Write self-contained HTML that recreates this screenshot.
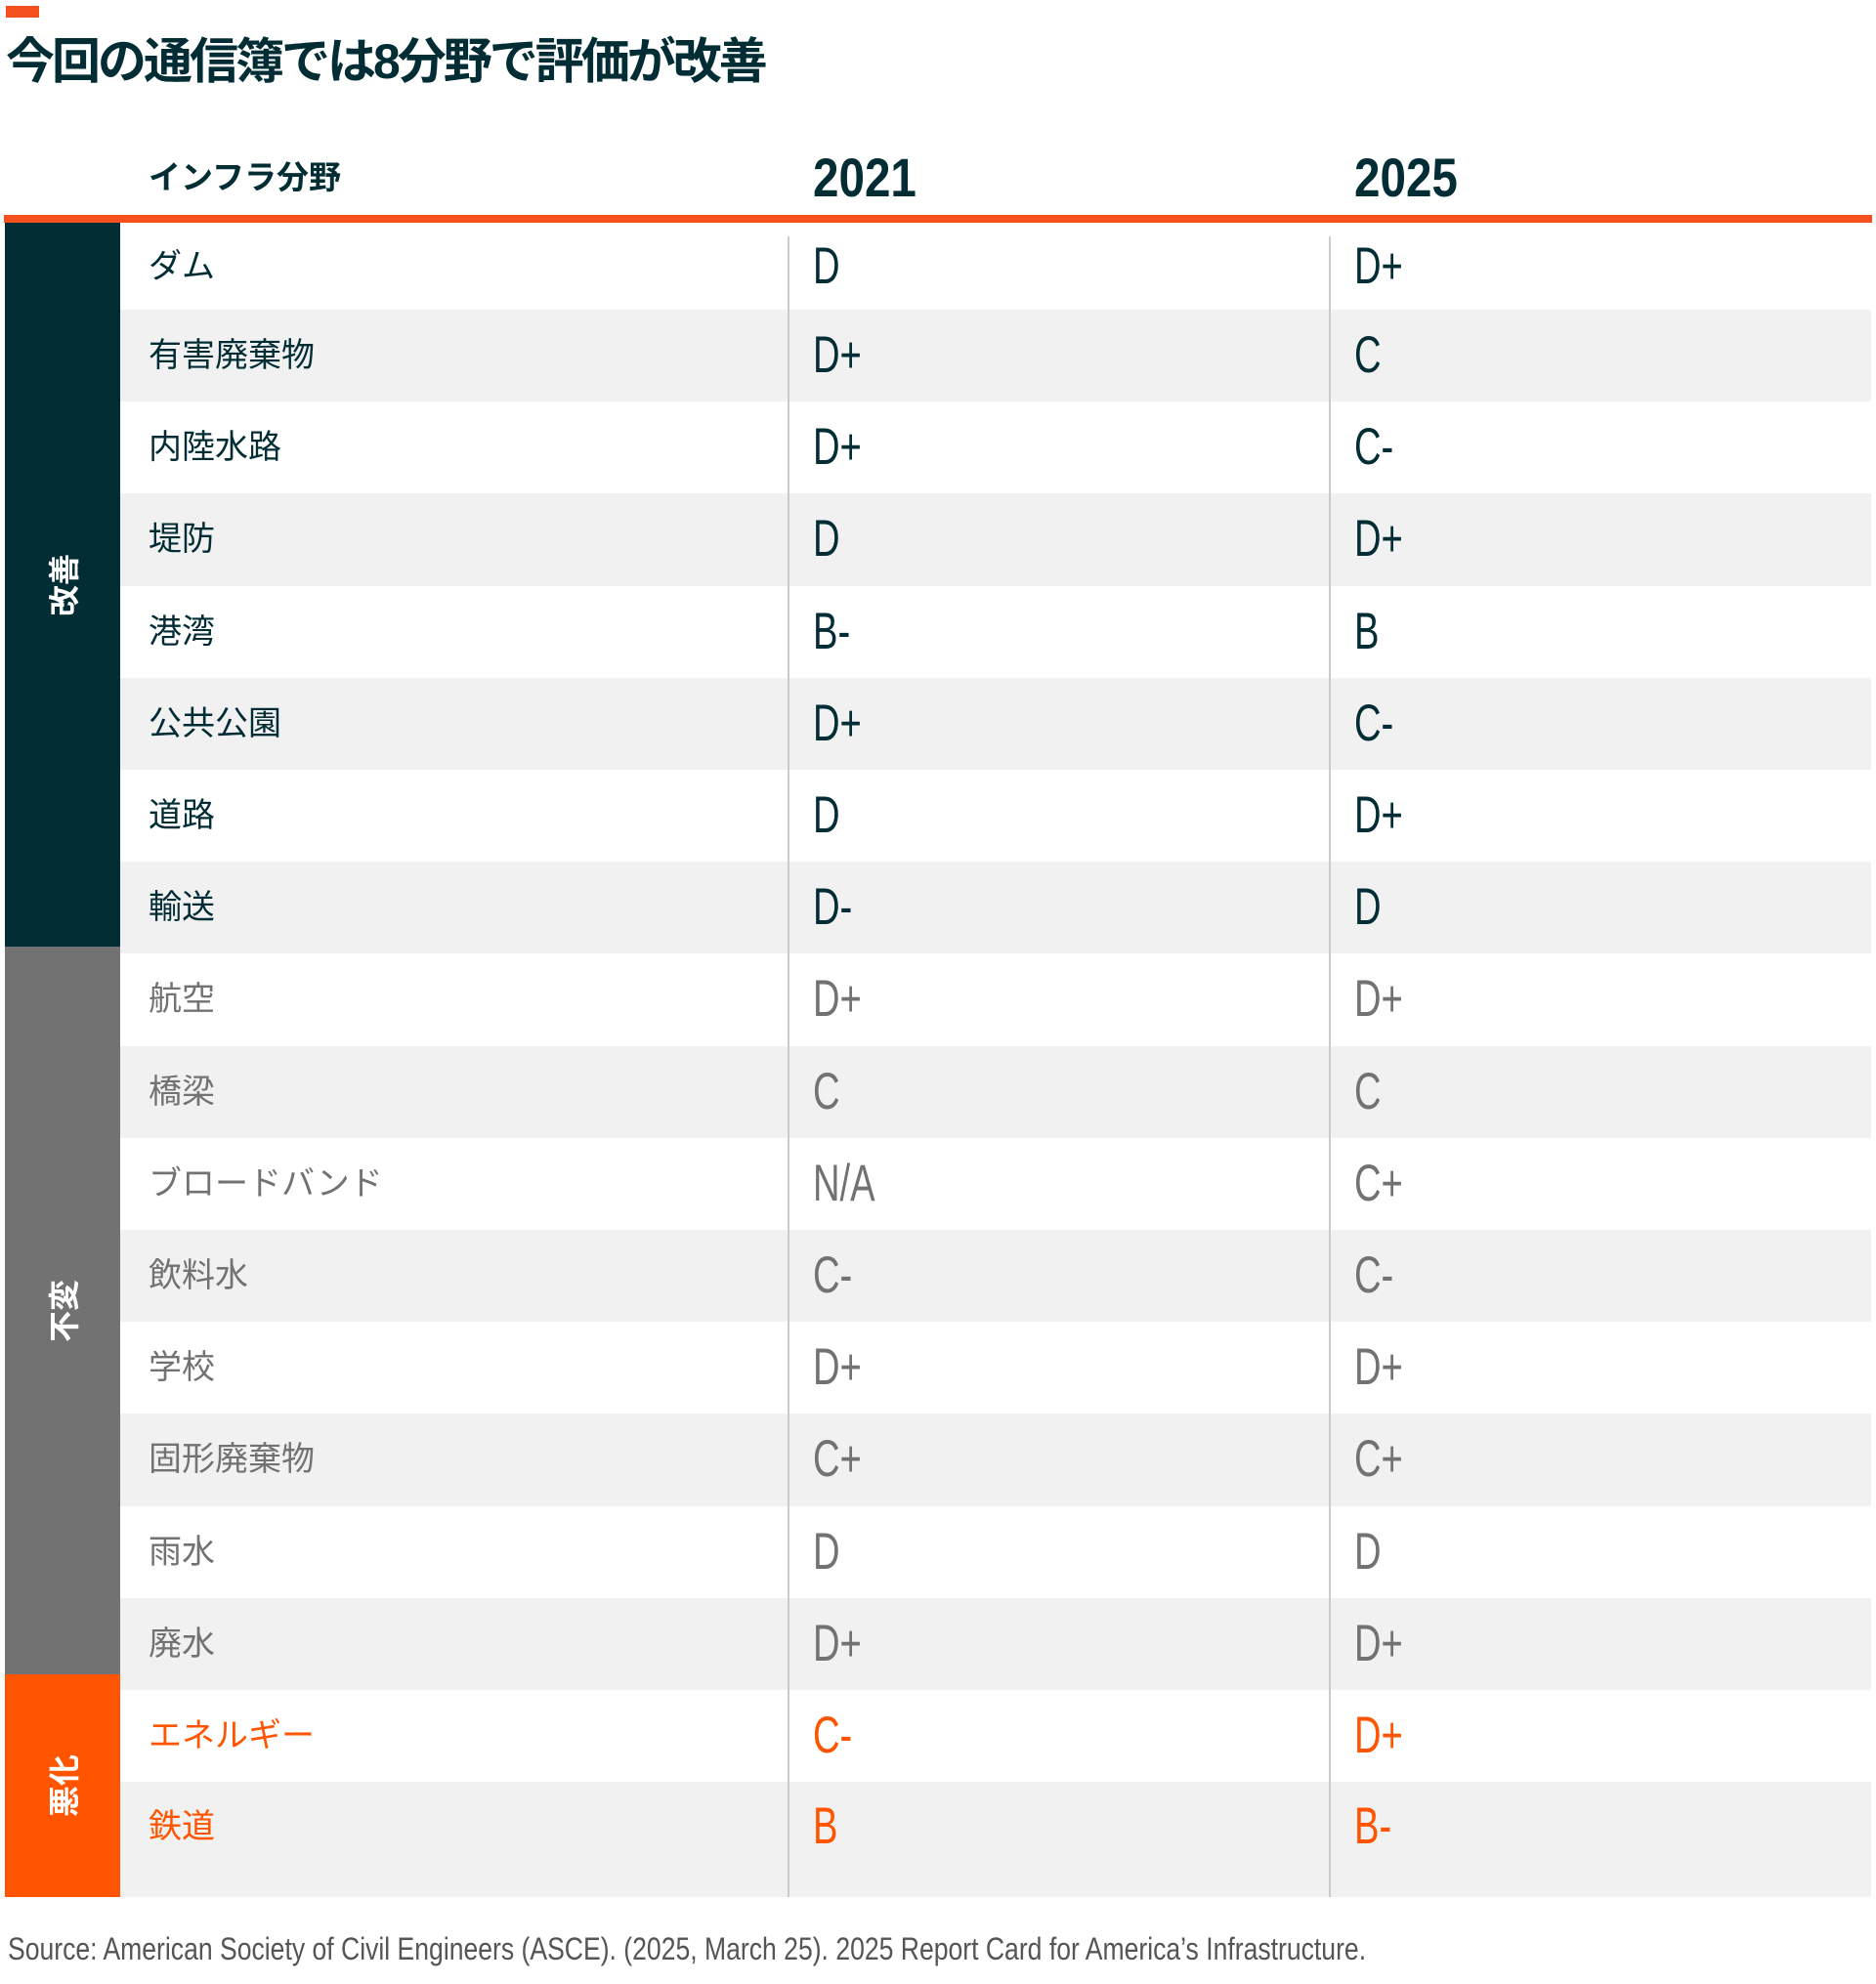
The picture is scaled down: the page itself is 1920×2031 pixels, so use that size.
<!DOCTYPE html>
<html><head><meta charset="utf-8">
<style>
html,body{margin:0;padding:0;background:#fff;}
body{width:1920px;height:2031px;position:relative;overflow:hidden;font-family:"Liberation Sans","Noto Sans CJK JP",sans-serif;}
.abs{position:absolute;}
#title{left:6px;top:28px;font-size:50px;font-weight:bold;color:#032d35;letter-spacing:-3px;line-height:70px;white-space:nowrap;font-family:"Liberation Sans","Noto Sans CJK JP",sans-serif;}
.hdr{top:150px;height:64px;line-height:64px;font-weight:bold;color:#032d35;white-space:nowrap;}
.row{position:absolute;left:123px;width:1792px;}
.lbl{position:absolute;left:29px;font-size:34px;white-space:nowrap;}
.grade{position:absolute;font-size:53px;transform:scaleX(0.72);transform-origin:left center;white-space:nowrap;}
.grp{position:absolute;left:5px;width:118px;}
.grp span{position:absolute;left:50%;top:50%;transform:translate(-50%,-50%) rotate(-90deg);color:#fff;font-weight:bold;font-size:32px;white-space:nowrap;}
.vline{position:absolute;top:242px;width:2px;height:1700px;background:#cbcbcb;}
#source{left:8px;top:1975px;font-size:32px;color:#555;white-space:nowrap;transform:scaleX(0.83);transform-origin:left center;line-height:40px;}
</style></head>
<body>
<div class="abs" style="left:6px;top:6px;width:34px;height:12px;background:#f4511e;"></div>
<div id="title" class="abs">今回の通信簿では8分野で評価が改善</div>

<div class="abs hdr" style="left:152px;font-size:33px;">インフラ分野</div>
<div class="abs hdr" style="left:832px;font-size:56px;transform:scaleX(0.85);transform-origin:left center;">2021</div>
<div class="abs hdr" style="left:1386px;font-size:56px;transform:scaleX(0.85);transform-origin:left center;">2025</div>

<div id="table"></div>

<div class="abs" style="left:4px;top:220px;width:1912px;height:8px;background:#f4511e;"></div>

<div id="source" class="abs">Source: American Society of Civil Engineers (ASCE). (2025, March 25). 2025 Report Card for America’s Infrastructure.</div>

<script>
const categories = ["ダム","有害廃棄物","内陸水路","堤防","港湾","公共公園","道路","輸送","航空","橋梁","ブロードバンド","飲料水","学校","固形廃棄物","雨水","廃水","エネルギー","鉄道"];
const grades2021 = ["D","D+","D+","D","B-","D+","D","D-","D+","C","N/A","C-","D+","C+","D","D+","C-","B"];
const grades2025 = ["D+","C","C-","D+","B","C-","D+","D","D+","C","C+","C-","D+","C+","D","D+","D+","B-"];
const groupNames = ["改善","不変","悪化"];
const groupSizes = [8,8,2];

const colors = ["#032d35","#727272","#ff5500"];
const table = document.getElementById('table');
const tops = [];
let y = 228;
for (let i = 0; i < categories.length; i++) {
  const h = i === 0 ? 89 : (i === categories.length - 1 ? 118 : 94.2);
  tops.push([y, h]);
  y += h;
}
const groupOf = [];
groupSizes.forEach((n, g) => { for (let k = 0; k < n; k++) groupOf.push(g); });

categories.forEach((c, i) => {
  const [t, h] = tops[i];
  const g = groupOf[i];
  const row = document.createElement('div');
  row.className = 'row';
  
  
  row.style.top = t + 'px';
  row.style.height = h + 'px';
  row.style.background = i % 2 === 1 ? '#f1f1f1' : '#fff';
  const cy = i === categories.length - 1 ? 46 : h / 2;
  const lbl = document.createElement('div');
  lbl.className = 'lbl';
  
  
  lbl.textContent = c;
  lbl.style.color = colors[g];
  lbl.style.top = (cy - 24) + 'px';
  lbl.style.lineHeight = '48px';
  row.appendChild(lbl);
  [[grades2021[i], 709], [grades2025[i], 1263]].forEach(([v, x], j) => {
    const d = document.createElement('div');
    d.className = 'grade';
    
    
    d.textContent = v;
    d.style.left = x + 'px';
    d.style.color = colors[g];
    d.style.top = (cy - 32) + 'px';
    d.style.lineHeight = '64px';
    row.appendChild(d);
  });
  table.appendChild(row);
});

const groupBounds = [[228, 969], [969, 1714], [1714, 1942]];
groupNames.forEach((n, g) => {
  const d = document.createElement('div');
  d.className = 'grp';
  
  
  d.style.top = groupBounds[g][0] + 'px';
  d.style.height = (groupBounds[g][1] - groupBounds[g][0]) + 'px';
  d.style.background = colors[g];
  const s = document.createElement('span');
  s.textContent = n;
  d.appendChild(s);
  table.appendChild(d);
});

[806, 1360].forEach((x, k) => {
  const l = document.createElement('div');
  l.className = 'vline';
  
  
  l.style.left = x + 'px';
  table.appendChild(l);
});
</script>
</body></html>
